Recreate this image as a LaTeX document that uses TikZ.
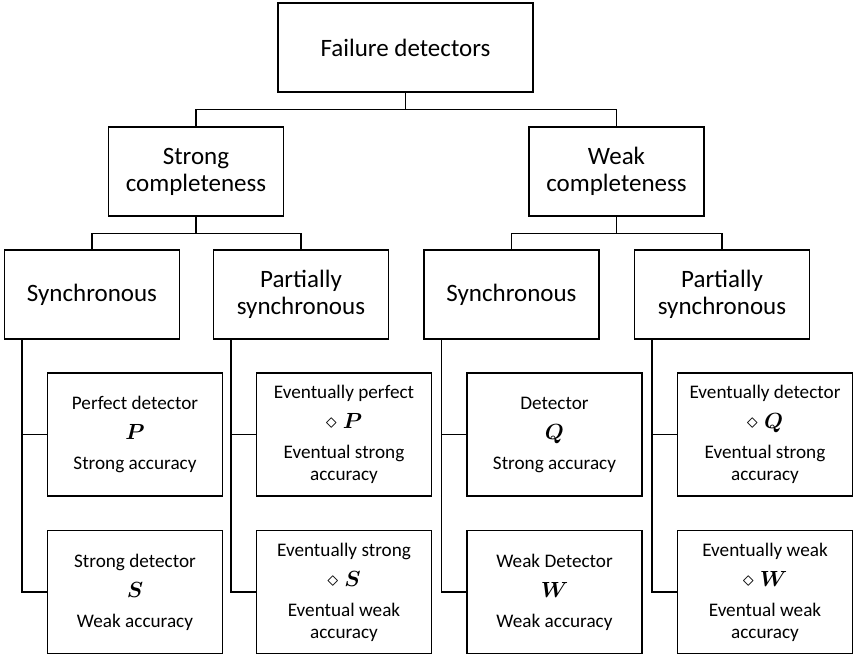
\documentclass[tikz,border=0pt]{standalone}
\usepackage{amsmath}
\usepackage{fontspec}
\setmainfont{Carlito}
\usetikzlibrary{positioning}
\newcommand{\detsym}[1]{{\fontsize{11}{11}\selectfont$#1$}}
\tikzset{
block/.style={
  rectangle,
  draw,
  text centered,
  align=center,
  inner sep=0pt,
  line width=0.7pt,
 },
rootbox/.style={block, minimum width=127.5pt, minimum height=44.5pt,
  font=\fontsize{12.5}{13.5}\selectfont},
catbox/.style={block, minimum width=87.5pt, minimum height=44.5pt,
  font=\fontsize{12.5}{13.5}\selectfont},
leafbox/.style={block, minimum width=87.5pt, minimum height=61.5pt,
  font=\fontsize{9.6}{11}\selectfont},
edge/.style={draw, line width=0.7pt}
}
\begin{document}
\begin{tikzpicture}[x=0.5pt,y=-0.5pt]
 \useasboundingbox (0,0) rectangle (857,659);
 \node[rootbox] (fd) at (405.5,47.5) {Failure detectors};
 \node[catbox] (sc) at (196,171.5) {Strong\\completeness};
 \node[catbox] (wc) at (616.5,171.5) {Weak\\completeness};
 \node[catbox] (s1) at (92,294.5) {Synchronous};
 \node[catbox] (p1) at (301,294.5) {Partially\\synchronous};
 \node[catbox] (s2) at (511.5,294.5) {Synchronous};
 \node[catbox] (p2) at (722,294.5) {Partially\\synchronous};
 % leaves
 \node[leafbox] (pd) at (135,434.5) {Perfect detector\\[4pt]\detsym{\boldsymbol{P}}\\[4pt]Strong accuracy};
 \node[leafbox] (sd) at (135,592) {Strong detector\\[4pt]\detsym{\boldsymbol{S}}\\[4pt]Weak accuracy};
 \node[leafbox] (ep) at (344,434.5) {Eventually perfect\\[4pt]\detsym{\diamond\;\boldsymbol{P}}\\[4pt]Eventual strong\\accuracy};
 \node[leafbox] (es) at (344,592) {Eventually strong\\[4pt]\detsym{\diamond\;\boldsymbol{S}}\\[4pt]Eventual weak\\accuracy};
 \node[leafbox] (dq) at (554.5,434.5) {Detector\\[4pt]\detsym{\boldsymbol{Q}}\\[4pt]Strong accuracy};
 \node[leafbox] (wd) at (554.5,592) {Weak Detector\\[4pt]\detsym{\boldsymbol{W}}\\[4pt]Weak accuracy};
 \node[leafbox] (eq) at (765,434.5) {Eventually detector\\[4pt]\detsym{\diamond\;\boldsymbol{Q}}\\[4pt]Eventual strong\\accuracy};
 \node[leafbox] (ew) at (765,592) {Eventually weak\\[4pt]\detsym{\diamond\;\boldsymbol{W}}\\[4pt]Eventual weak\\accuracy};

 \foreach \up/\dn in {fd/sc,fd/wc,sc/s1,sc/p1,wc/s2,wc/p2}
 {\draw[edge] (\up.south) -- ++(0,-8.5pt) -| (\dn.north);}
 \foreach \grp/\a/\b in {s1/pd/sd,p1/ep/es,s2/dq/wd,p2/eq/ew}
 {\draw[edge] ([xshift=9pt]\grp.south west) |- (\a.west);
  \draw[edge] ([xshift=9pt]\grp.south west) |- (\b.west);}
\end{tikzpicture}
\end{document}
